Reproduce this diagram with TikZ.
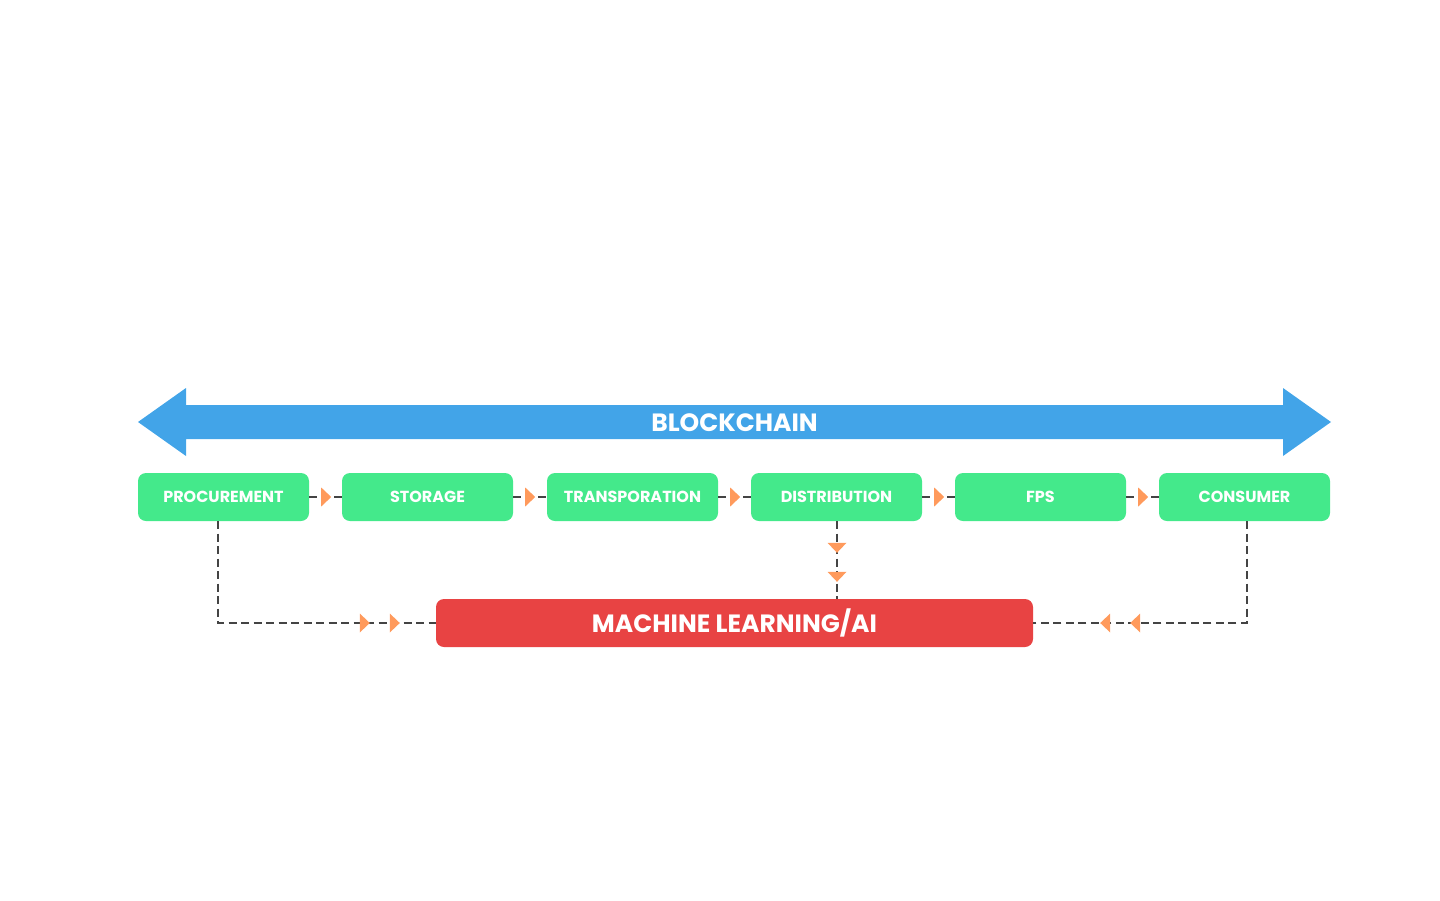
\documentclass[tikz,border=0pt]{standalone}
\usepackage{fontspec}
\setmainfont{Poppins}[BoldFont={* Bold}]
\definecolor{chainblue}{HTML}{42A4E8}
\definecolor{stepgreen}{HTML}{44E98B}
\definecolor{mlred}{HTML}{E84343}
\definecolor{tricol}{HTML}{FF9A5C}
\definecolor{linegray}{HTML}{444444}
\tikzset{
  stagebox/.style={fill=stepgreen, rounded corners=8pt, minimum width=171pt, minimum height=48pt, inner sep=0pt, text=white, font=\fontsize{16pt}{17pt}\selectfont\bfseries},
  mlbox/.style={fill=mlred, rounded corners=8pt, minimum width=597pt, minimum height=48pt, inner sep=0pt, text=white, font=\fontsize{25pt}{26pt}\selectfont\bfseries},
  conn/.style={draw=linegray, line width=2.5pt, dash pattern=on 8pt off 4.5pt},
  tri/.pic={\fill[tricol] (0,0) -- (-10pt,9.5pt) -- (-10pt,-9.5pt) -- cycle;}
}
\begin{document}
\begin{tikzpicture}[x=1pt,y=-1pt]
\useasboundingbox (0,0) rectangle (1440,900);
% blockchain arrow
\fill[chainblue] (138,422) -- (186,388) -- (186,405) -- (1283,405) -- (1283,388) -- (1331,422) -- (1283,456) -- (1283,439) -- (186,439) -- (186,456) -- cycle;
\node[text=white, font=\fontsize{25pt}{26pt}\selectfont\bfseries] (chain) at (734.5,423) {BLOCKCHAIN};
% stages
\node[stagebox] (proc) at (223.5,497) {PROCUREMENT};
\node[stagebox] (stor) at (427.5,497) {STORAGE};
\node[stagebox] (trans) at (632.5,497) {TRANSPORATION};
\node[stagebox] (dist) at (836.5,497) {DISTRIBUTION};
\node[stagebox] (fps) at (1040.5,497) {FPS};
\node[stagebox] (cons) at (1244.5,497) {CONSUMER};
\node[mlbox] (ml) at (734.5,623) {MACHINE LEARNING/AI};
% horizontal connectors
\foreach \a/\b in {proc/stor, stor/trans, trans/dist, dist/fps, fps/cons}{
  \draw[conn] (\a.east) -- (\b.west);
  \pic at ([xshift=22pt]\a.east) {tri};
}
% to machine learning
\draw[conn] ([xshift=-5.5pt]proc.south) |- (ml.west);
\pic at ([xshift=-66pt]ml.west) {tri};
\pic at ([xshift=-36pt]ml.west) {tri};
\coordinate (dm) at ([xshift=0.5pt]dist.south |- ml.north);
\draw[conn] ([xshift=0.5pt]dist.south) -- (dm);
\pic[rotate=-90] at ([yshift=46pt]dm) {tri};
\pic[rotate=-90] at ([yshift=17pt]dm) {tri};
\draw[conn] ([xshift=2.5pt]cons.south) |- (ml.east);
\pic[rotate=180] at ([xshift=67pt]ml.east) {tri};
\pic[rotate=180] at ([xshift=97pt]ml.east) {tri};
\end{tikzpicture}
\end{document}
